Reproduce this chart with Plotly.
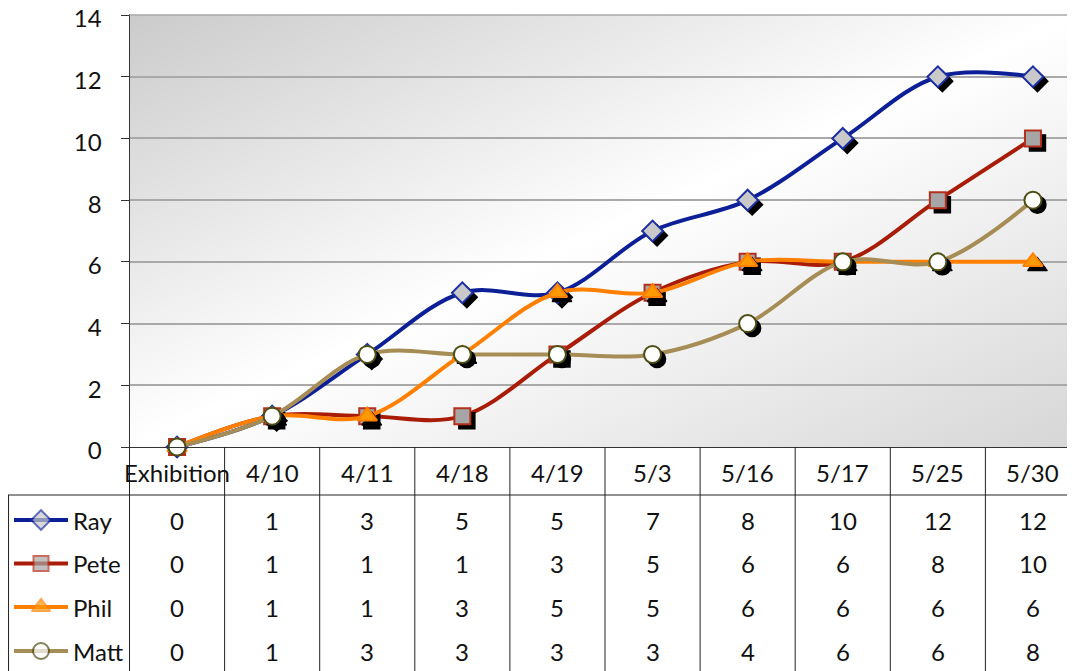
import base64
import plotly.graph_objects as go

# ---------------- data ----------------
categories = ["Exhibition", "4/10", "4/11", "4/18", "4/19", "5/3", "5/16", "5/17", "5/25", "5/30"]
ray = [0, 1, 3, 5, 5, 7, 8, 10, 12, 12]
pete = [0, 1, 1, 1, 3, 5, 6, 6, 8, 10]
phil = [0, 1, 1, 3, 5, 5, 6, 6, 6, 6]
matt = [0, 1, 3, 3, 3, 3, 4, 6, 6, 8]
series_names = ["Ray", "Pete", "Phil", "Matt"]
series_values = [ray, pete, phil, matt]
y_ticks = [0, 2, 4, 6, 8, 10, 12, 14]

# ---------------- styles ----------------
PAGE_OFF = 8                      # default body margin of the html page
W, H = 1075 - PAGE_OFF, 671 - PAGE_OFF
FONT = "Lato"
styles = {
    "Ray": dict(line="#0c1f96", symbol="diamond", fill="#c9c9c9", border="#1c2fa3", size=16),
    "Pete": dict(line="#a81c08", symbol="square", fill="#a6a6a6", border="#b5301c", size=16),
    "Phil": dict(line="#ff8000", symbol="triangle-up", fill="#ff9a00", border="#ff8000", size=17),
    "Matt": dict(line="#a68c55", symbol="circle", fill="#ffffff", border="#4d4d14", size=17),
}


def PX(x):  # page pixel -> paper
    return (x - PAGE_OFF) / W


def PY(y):
    return 1 - (y - PAGE_OFF) / H


plot_left, plot_top, plot_bottom = 129.5, 15, 447
cat_w = 95.1
x_range = [-0.5, (1075 - plot_left) / cat_w - 0.5]
y_max = 14.03
px_per_unit = (plot_bottom - plot_top) / 14.0
plot_top_ext = plot_bottom - y_max * px_per_unit
shadow_dx = 4.5 / cat_w
shadow_dy = -4.5 / px_per_unit

xs = list(range(len(categories)))

fig = go.Figure()

for name, vals in zip(series_names, series_values):
    st = styles[name]
    fig.add_trace(go.Scatter(
        x=xs, y=vals, mode="lines", line=dict(color=st["line"], width=4, shape="spline", smoothing=1),
        hoverinfo="skip", showlegend=False, xaxis="x", yaxis="y"))
    fig.add_trace(go.Scatter(
        x=[v + shadow_dx for v in xs], y=[v + shadow_dy for v in vals], mode="markers",
        marker=dict(symbol=st["symbol"], size=st["size"], color="#000000", line=dict(width=1.5, color="#000000")),
        hoverinfo="skip", showlegend=False, cliponaxis=False, xaxis="x", yaxis="y"))
    fig.add_trace(go.Scatter(
        x=xs, y=vals, mode="markers", name=name,
        marker=dict(symbol=st["symbol"], size=st["size"], color=st["fill"], line=dict(width=2, color=st["border"])),
        showlegend=False, cliponaxis=False, xaxis="x", yaxis="y"))

# ---------------- table geometry ----------------
header_y = 473
row_y = [520, 563.5, 607, 651]
table_top = 495
table_left = 8
line_col = "#222222"

shapes = []
# top border of plot area (gridline at 14)
shapes.append(dict(type="line", xref="paper", yref="y", x0=PX(plot_left), x1=1, y0=14, y1=14,
                   line=dict(color="#a9a9a9", width=1.5)))
# horizontal line under category header
shapes.append(dict(type="line", xref="paper", yref="paper", x0=PX(table_left), x1=1,
                   y0=PY(table_top), y1=PY(table_top), line=dict(color=line_col, width=1)))
# left border of table
shapes.append(dict(type="line", xref="paper", yref="paper", x0=PX(table_left) + 0.0005, x1=PX(table_left) + 0.0005,
                   y0=PY(table_top), y1=0, line=dict(color=line_col, width=1)))
# left edge (continuation of y axis)
shapes.append(dict(type="line", xref="paper", yref="paper", x0=PX(plot_left), x1=PX(plot_left),
                   y0=PY(plot_bottom), y1=0, line=dict(color=line_col, width=1)))
# column separators
for k in range(1, len(categories)):
    shapes.append(dict(type="line", xref="x", yref="paper", x0=k - 0.5, x1=k - 0.5,
                       y0=PY(plot_bottom), y1=0, line=dict(color=line_col, width=1)))

# gradient background image
svg = ("<svg xmlns='http://www.w3.org/2000/svg' width='200' height='100' viewBox='0 0 200 100' "
       "preserveAspectRatio='none'><defs><linearGradient id='g' x1='0' y1='0' x2='1' y2='1'>"
       "<stop offset='0' stop-color='#cbcbcb'/><stop offset='0.5' stop-color='#ffffff'/>"
       "<stop offset='1' stop-color='#d6d6d6'/></linearGradient></defs>"
       "<rect width='200' height='100' fill='url(#g)'/></svg>")
svg_uri = "data:image/svg+xml;base64," + base64.b64encode(svg.encode()).decode()

annotations = []
tf = dict(family=FONT, size=24, color="#111111")
for i, c in enumerate(categories):
    annotations.append(dict(x=i, y=PY(header_y), xref="x", yref="paper", text=c, showarrow=False,
                            font=tf, xanchor="center", yanchor="middle"))
for r, (name, vals) in enumerate(zip(series_names, series_values)):
    for i, v in enumerate(vals):
        annotations.append(dict(x=i, y=PY(row_y[r]), xref="x", yref="paper", text=str(v), showarrow=False,
                                font=tf, xanchor="center", yanchor="middle"))
    annotations.append(dict(x=PX(71), y=PY(row_y[r]), xref="paper", yref="paper", text=name, showarrow=False,
                            font=tf, xanchor="left", yanchor="middle"))

# legend keys in table (pixel axes x3/y3, page pixels)
for r, name in enumerate(series_names):
    st = styles[name]
    fig.add_trace(go.Scatter(
        x=[14, 41, 68], y=[row_y[r]] * 3, mode="lines+markers",
        line=dict(color=st["line"], width=4),
        marker=dict(symbol=st["symbol"], size=[0, st["size"] - 1, 0], color=st["fill"],
                    line=dict(width=[0, 2, 0], color=st["border"])),
        hoverinfo="skip", showlegend=False, xaxis="x3", yaxis="y3"))

fig.update_layout(
    width=W, height=H,
    margin=dict(l=0, r=0, t=0, b=0, autoexpand=False),
    paper_bgcolor="#ffffff",
    plot_bgcolor="rgba(0,0,0,0)",
    showlegend=False,
    font=dict(family=FONT, size=24, color="#111111"),
    xaxis=dict(domain=[PX(plot_left), 1], range=x_range, showgrid=False, zeroline=False,
               showticklabels=False, ticks="", showline=True, linecolor="#333333", linewidth=1,
               automargin=False),
    yaxis=dict(domain=[PY(plot_bottom), PY(plot_top_ext)], range=[0, y_max], tickvals=y_ticks,
               showgrid=True, gridcolor="#a9a9a9", gridwidth=1.5, zeroline=False,
               showline=True, linecolor="#333333", linewidth=1, ticks="outside", ticklen=8,
               tickcolor="#333333", tickfont=dict(family=FONT, size=24, color="#111111"),
               ticklabelstandoff=14, ticklabelshift=4, ticklabeloverflow="allow", automargin=False),
    xaxis3=dict(domain=[0, 1], range=[PAGE_OFF, 1075], visible=False, fixedrange=True, automargin=False),
    yaxis3=dict(domain=[0, 1], range=[671, PAGE_OFF], visible=False, fixedrange=True, automargin=False),
    shapes=shapes,
    annotations=annotations,
    images=[dict(source=svg_uri, xref="paper", yref="paper", x=PX(plot_left), y=PY(plot_top),
                 sizex=1 - PX(plot_left), sizey=PY(plot_top) - PY(plot_bottom),
                 xanchor="left", yanchor="top", sizing="stretch", layer="below")],
)

fig.write_html("out.html")
